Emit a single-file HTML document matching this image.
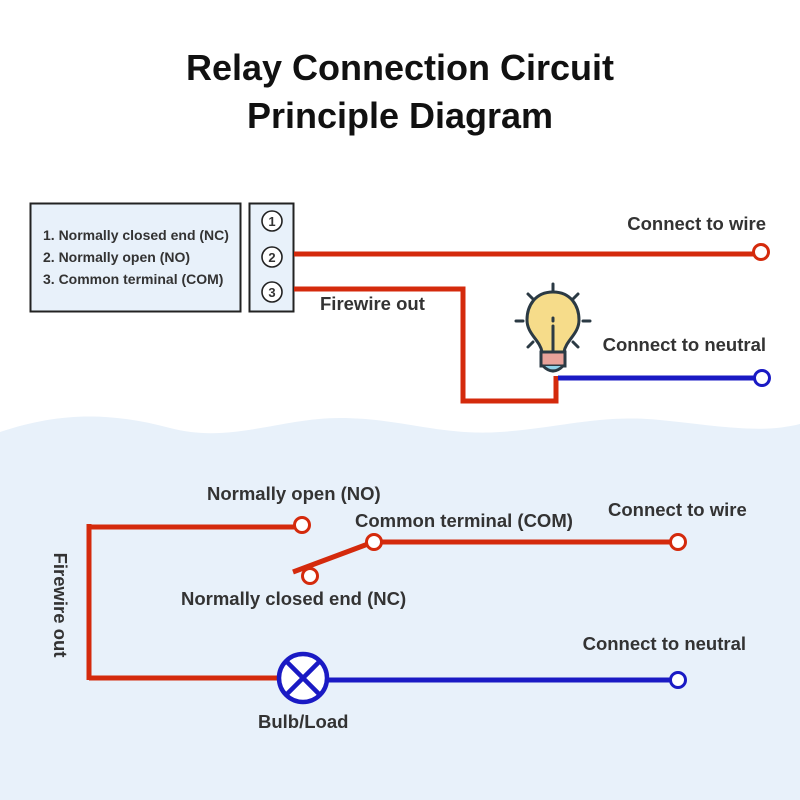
<!DOCTYPE html>
<html><head><meta charset="utf-8"><style>
html,body{margin:0;padding:0;background:#fff}
svg{display:block}
text{font-family:"Liberation Sans",sans-serif;fill:#333;font-weight:bold}
</style></head><body>
<svg width="800" height="800" viewBox="0 0 800 800" xmlns="http://www.w3.org/2000/svg">
<rect width="800" height="800" fill="#fff"/>
<path d="M0 432 C60 412 110 412 170 428 C230 444 280 418 340 418 C400 418 440 436 500 432 C560 428 600 414 660 420 C720 426 760 434 800 424 L800 800 L0 800 Z" fill="#e8f1fa"/>
<text x="400" y="80" text-anchor="middle" font-size="36" style="fill:#111">Relay Connection Circuit</text>
<text x="400" y="128" text-anchor="middle" font-size="36" style="fill:#111">Principle Diagram</text>
<rect x="30.5" y="203.5" width="210" height="108" fill="#e8f1fa" stroke="#222" stroke-width="2"/>
<rect x="249.5" y="203.5" width="44" height="108" fill="#e8f1fa" stroke="#222" stroke-width="2"/>
<g font-size="14"><text x="43" y="240">1. Normally closed end (NC)</text>
<text x="43" y="262">2. Normally open (NO)</text>
<text x="43" y="284">3. Common terminal (COM)</text></g>
<g fill="#fff" stroke="#222" stroke-width="1.6"><circle cx="272" cy="221" r="10"/><circle cx="272" cy="257" r="10"/><circle cx="272" cy="292" r="10"/></g>
<g font-size="13"><text x="272" y="226" text-anchor="middle">1</text><text x="272" y="262" text-anchor="middle">2</text><text x="272" y="297" text-anchor="middle">3</text></g>
<g fill="none" stroke="#d42a0c" stroke-width="5">
<path d="M294 254 H753"/>
<path d="M294 289 H463 V401 H556 V376"/>
<path d="M89 527 H294"/><path d="M89 524 V680"/><path d="M89 678 H280"/>
<path d="M293 572 L368 544"/><path d="M382 542 H670"/>
</g>
<g fill="#fff" stroke="#d42a0c" stroke-width="3">
<circle cx="761" cy="252" r="7.5"/><circle cx="302" cy="525" r="7.5"/><circle cx="374" cy="542" r="7.5"/><circle cx="310" cy="576" r="7.5"/><circle cx="678" cy="542" r="7.5"/>
</g>
<g stroke="#1a1ac4" stroke-width="5" fill="none">
<path d="M558 378 H754"/><path d="M326 680 H670"/>
</g>
<g fill="#fff" stroke="#1a1ac4" stroke-width="3"><circle cx="762" cy="378" r="7.5"/><circle cx="678" cy="680" r="7.5"/></g>
<g stroke="#1a1ac4" stroke-width="4.5" fill="#fff"><circle cx="303" cy="678" r="24"/>
<path d="M286 661 L320 695 M320 661 L286 695"/></g>
<g stroke="#2b3a44" stroke-width="3" stroke-linecap="round">
<path d="M553 284 V291 M528 294 L533 299 M578 294 L573 299 M516 321 H523 M583 321 H590 M528 347 L533 342 M578 347 L573 342"/>
<path d="M553 292 C535 292 527 306 527 320 C527 334 540 340 542 352 H564 C566 340 579 334 579 320 C579 306 571 292 553 292 Z" fill="#f6dc8a"/>
<path d="M553 326 V352 M553 318 V321"/>
<rect x="541" y="352" width="24" height="14" fill="#e8a29a"/>
<path d="M543 366 Q553 376 563 366" fill="#8fd3ea"/>
</g>
<g font-size="18.5">
<text x="766" y="230" text-anchor="end">Connect to wire</text>
<text x="320" y="310">Firewire out</text>
<text x="766" y="351" text-anchor="end">Connect to neutral</text>
<text x="207" y="500">Normally open (NO)</text>
<text x="355" y="527">Common terminal (COM)</text>
<text x="608" y="516">Connect to wire</text>
<text x="181" y="605">Normally closed end (NC)</text>
<text x="746" y="650" text-anchor="end">Connect to neutral</text>
<text x="258" y="728">Bulb/Load</text>
<text transform="translate(54,605) rotate(90)" text-anchor="middle">Firewire out</text>
</g>
</svg>
</body></html>
